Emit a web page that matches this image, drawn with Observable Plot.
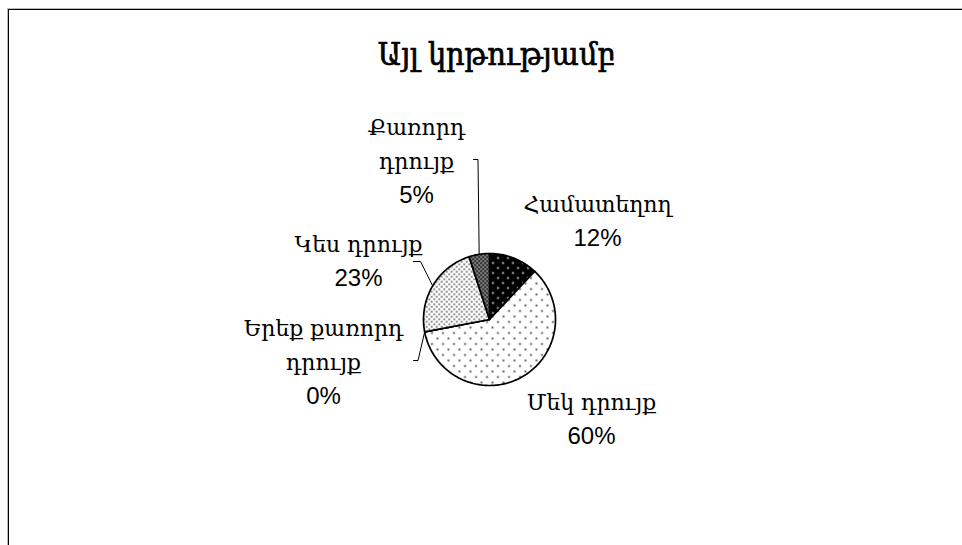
<!DOCTYPE html>
<html>
<head>
<meta charset="utf-8">
<script src="https://cdn.jsdelivr.net/npm/d3@7"></script>
<script src="https://cdn.jsdelivr.net/npm/@observablehq/plot@0.6"></script>
<style>
  html, body { margin: 0; padding: 0; background: #fff; }
  #wrap { position: relative; width: 962px; height: 545px; overflow: hidden; background: #fff; }
  #frame { position: absolute; left: 8px; top: 9px; width: 1100px; height: 700px;
           border-left: 1.5px solid #000; border-top: 1.5px solid #000;
           box-shadow: -1px -1px 0 #bbb; }
  #chart { position: absolute; left: 0; top: 0; }
</style>
</head>
<body>
<div id="wrap"><div id="frame"></div><div id="chart"></div></div>
<script>
// ---- data ----
const title = "Այլ կրթությամբ";
const categories = ["Համատեղող", "Մեկ դրույք", "Երեք քառորդ դրույք", "Կես դրույք", "Քառորդ դրույք"];
const values = [12, 60, 0, 23, 5];
const nameLines = [
  ["Համատեղող"],
  ["Մեկ դրույք"],
  ["Երեք քառորդ", "դրույք"],
  ["Կես դրույք"],
  ["Քառորդ", "դրույք"]
];
const percentLabels = ["12%", "60%", "0%", "23%", "5%"];

// ---- layout / style ----
const W = 962, H = 545;
const cx = 489, cy = 319, R = 66;
const patterns = ["p-comb", "p-one", "p-34", "p-half", "p-quarter"];
// label anchor: x centre, y = baseline of last (percent) line
const labelPos = [
  {x: 597, y: 245},
  {x: 591, y: 443},
  {x: 323, y: 403},
  {x: 358, y: 285},
  {x: 416, y: 202}
];
// leader elbows (null = no leader): [tickStart, corner]
const leaderElbow = [
  null,
  null,
  [[413, 360], [417.5, 360]],
  [[413, 261], [420, 261]],
  [[473, 159], [477.5, 159]]
];
const pctSize = 24, nameSize = 22, lineGap = 34;

// ---- geometry from data ----
const arcs = d3.pie().sort(null).value(d => d)(values);
const pt = a => [cx + R * Math.sin(a), cy - R * Math.cos(a)];
const slicePts = [];
arcs.forEach((a, i) => {
  slicePts.push({x: cx, y: cy, k: i});
  const n = Math.max(1, Math.ceil((a.endAngle - a.startAngle) / (Math.PI / 180)));
  for (let j = 0; j <= n; j++) {
    const t = a.startAngle + (a.endAngle - a.startAngle) * j / n;
    const [x, y] = pt(t);
    slicePts.push({x, y, k: i});
  }
  slicePts.push({x: cx, y: cy, k: i});
});
const leaderPts = [];
arcs.forEach((a, i) => {
  const e = leaderElbow[i];
  if (!e) return;
  const m = values[i] === 0 ? a.startAngle : (a.startAngle + a.endAngle) / 2;
  const [x, y] = pt(m);
  leaderPts.push({x: e[0][0], y: e[0][1], k: i}, {x: e[1][0], y: e[1][1], k: i}, {x, y, k: i});
});
const nameTexts = [];
nameLines.forEach((lines, i) => {
  lines.forEach((t, j) => {
    nameTexts.push({text: t, x: labelPos[i].x, y: labelPos[i].y - (lines.length - j) * lineGap});
  });
});
const pctTexts = percentLabels.map((t, i) => ({text: t, ...labelPos[i]}));

const chart = Plot.plot({
  width: W, height: H, margin: 0,
  x: {domain: [0, W], range: [0, W], axis: null},
  y: {domain: [0, H], range: [0, H], axis: null},
  color: {type: "identity"},
  style: {background: "transparent", overflow: "visible"},
  marks: [
    Plot.line(slicePts, {x: "x", y: "y", z: "k", fill: d => `url(#${patterns[d.k]})`,
      stroke: "#000", strokeWidth: 1.7, strokeLinejoin: "round", curve: "linear"}),
    Plot.line(leaderPts, {x: "x", y: "y", z: "k", stroke: "#000", strokeWidth: 1}),
    Plot.text(nameTexts, {x: "x", y: "y", text: "text", textAnchor: "middle", lineAnchor: "bottom",
      fontSize: nameSize, fill: "#000", fontFamily: "'DejaVu Serif', serif"}),
    Plot.text(pctTexts, {x: "x", y: "y", text: "text", textAnchor: "middle", lineAnchor: "bottom",
      fontSize: pctSize, fill: "#000", fontFamily: "'Liberation Sans', Arial, sans-serif"}),
    Plot.text([title], {frameAnchor: "top", text: d => d, dx: 15, dy: 42, lineAnchor: "top",
      fontSize: 32, fill: "#000", stroke: "#000", strokeWidth: 0.7,
      fontFamily: "'DejaVu Serif Condensed', 'DejaVu Serif', serif"})
  ]
});

// pattern definitions
const defs = `
<defs>
  <pattern id="p-comb" width="10" height="10" patternUnits="userSpaceOnUse">
    <rect width="10" height="10" fill="#000"/>
    <circle cx="2.5" cy="2.5" r="0.9" fill="#fff"/><circle cx="7.5" cy="7.5" r="0.9" fill="#fff"/>
  </pattern>
  <pattern id="p-one" width="11" height="11" patternUnits="userSpaceOnUse">
    <rect width="11" height="11" fill="#fff"/>
    <circle cx="2.5" cy="2.5" r="0.9" fill="#222"/><circle cx="8" cy="8" r="0.9" fill="#222"/>
  </pattern>
  <pattern id="p-34" width="4" height="4" patternUnits="userSpaceOnUse">
    <rect width="4" height="4" fill="#fff"/>
  </pattern>
  <pattern id="p-half" width="5" height="5" patternUnits="userSpaceOnUse">
    <rect width="5" height="5" fill="#fff"/>
    <circle cx="1.25" cy="1.25" r="0.85" fill="#222"/><circle cx="3.75" cy="3.75" r="0.85" fill="#222"/>
  </pattern>
  <pattern id="p-quarter" width="4" height="4" patternUnits="userSpaceOnUse">
    <rect width="4" height="4" fill="#333"/>
    <rect x="0" y="0" width="1.2" height="1.2" fill="#fff"/><rect x="2" y="2" width="1.2" height="1.2" fill="#fff"/>
  </pattern>
</defs>`;
chart.insertAdjacentHTML("afterbegin", defs);
document.getElementById("chart").appendChild(chart);
</script>
</body>
</html>
